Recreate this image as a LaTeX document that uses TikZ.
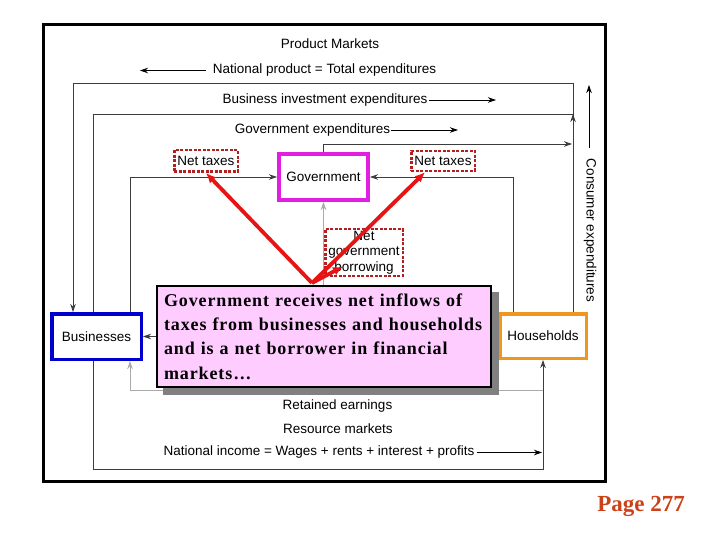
\documentclass[tikz,border=0pt]{standalone}
\usepackage{fontspec}
\setmainfont{Liberation Serif}
\newfontfamily\diagsans{Liberation Sans}
\newfontfamily\callfont[LetterSpace=5]{Liberation Serif}
\usetikzlibrary{arrows.meta,backgrounds}
\definecolor{govmag}{RGB}{225,30,225}
\definecolor{busblue}{RGB}{0,0,205}
\definecolor{hhorange}{RGB}{240,150,30}
\definecolor{taxred}{RGB}{180,30,30}
\definecolor{arrred}{RGB}{230,20,20}
\definecolor{pinkfill}{RGB}{255,204,255}
\definecolor{shadowgray}{RGB}{128,128,128}
\definecolor{linegray}{RGB}{60,60,60}
\definecolor{lightline}{RGB}{170,170,170}
\definecolor{pagered}{RGB}{205,65,25}
\begin{document}
\begin{tikzpicture}[x=1pt,y=-1pt,
  lbl/.style={font=\diagsans\fontsize{13.5}{15.5}\selectfont, inner sep=0pt},
  flow/.style={draw=linegray, line width=0.8pt},
  lightflow/.style={draw=lightline, line width=0.9pt},
  tip/.style={-{Stealth[length=8pt,width=5.5pt]}},
  sector/.style={draw, fill=white, line width=3.5pt, inner sep=0pt, lbl},
  taxbox/.style={draw=taxred, fill=white, line width=2.5pt, dash pattern=on 3pt off 1.5pt, inner sep=0pt, lbl},
  redarrow/.style={draw=arrred, line width=3.8pt, -{Latex[length=10pt,width=9pt]}},
  callout/.style={draw=black, line width=2pt, fill=pinkfill, minimum width=334pt, minimum height=101pt,
    text width=320pt, align=left, inner xsep=7pt, inner ysep=0pt,
    font=\callfont\bfseries\fontsize{18}{24.4}\selectfont}
]
\useasboundingbox (0,0) rectangle (720,540);
\draw[line width=3pt] (43.5,24.5) rectangle (605.5,481.5);

% labels
\node[lbl] (pm) at (330,44) {Product Markets};
\node[lbl] (np) at (324.5,70.5) {National product = Total expenditures};
\node[lbl] (bil) at (325,100) {Business investment expenditures};
\node[lbl] (gel) at (312.5,130) {Government expenditures};
\node[lbl] (ret) at (337.5,406.5) {Retained earnings};
\node[lbl] (rm) at (338,429) {Resource markets};
\node[lbl] (ni) at (319,452.5) {National income = Wages + rents + interest + profits};
\node[lbl, rotate=-90] (ce) at (590,230.5) {Consumer expenditures};

% sector boxes
\node[sector, draw=busblue, minimum width=89.5pt, minimum height=45.5pt] (bus) at (96.5,336.5) {Businesses};
\node[sector, draw=hhorange, minimum width=86.5pt, minimum height=44.5pt] (hh) at (543,336) {Households};
\node[sector, draw=govmag, line width=4pt, minimum width=89pt, minimum height=46pt] (gov) at (323.5,177) {Government};

% tax / borrowing boxes
\node[taxbox, minimum width=63.5pt, minimum height=21.5pt] (nt1) at (206,161) {Net taxes};
\node[taxbox, minimum width=63.5pt, minimum height=20pt] (nt2) at (443,161) {Net taxes};
\node[taxbox, minimum width=77.5pt, minimum height=46.5pt, align=center, font=\diagsans\fontsize{13.5}{15.7}\selectfont] (ngb) at (364,252.5) {Net\\government\\borrowing};

% callout with shadow
\fill[shadowgray] (163,292) rectangle (499,395);
\node[callout] (call) at (324,336.5) {Government receives net inflows of\\taxes from businesses and households\\and is a net borrower in financial\\markets\ldots};

% coordinates
\coordinate (tl) at (73,83);
\coordinate (tr) at (573,83);
\coordinate (bil0) at (93,114);
\coordinate (bi) at (573,114);
\coordinate (bi0) at (573,128);
\coordinate (bl) at (93,469);
\coordinate (br) at (543,469);
\coordinate (ge) at (572,144);
\coordinate (tx1) at (130,177);
\coordinate (tx2) at (513,177);
\coordinate (re) at (543,390);
\coordinate (npt) at (140,70.5);
\coordinate (bit) at (496,100);
\coordinate (get) at (458,130);
\coordinate (nit) at (542,452.5);
\coordinate (ce0) at (589,148);
\coordinate (ce1) at (589,85);
\coordinate (rs) at (312,283);

\begin{pgfonlayer}{background}
\fill[white] (0,0) rectangle (720,540);
\draw[flow,tip] (hh.north -| tr) -- (tr) -- (tl) -- (bus.north -| tl);
\draw[flow] (bus.north -| bil0) -- (bil0) -- (bi);
\draw[flow,tip] (bi0) -- (bi);
\draw[flow,tip] (bus.south -| bl) -- (bl) -- (br) -- (hh.south -| br);
\draw[flow,tip] (gov.north) |- (ge);
\draw[flow,tip] (bus.north -| tx1) |- (gov.west);
\draw[flow,tip] (hh.north -| tx2) |- (gov.east);
\draw[lightflow,tip] (call.north -| gov.south) -- (gov.south);
\draw[lightflow,tip] (re) -| (bus.south -| tx1);
\draw[flow,tip] (call.west |- bus.east) -- (bus.east);
\end{pgfonlayer}

% indicator arrows
\draw[flow,draw=black,tip] ([xshift=-7pt]np.west) -- (npt);
\draw[flow,draw=black,tip] ([xshift=1pt]bil.east) -- (bit);
\draw[flow,draw=black,tip] ([xshift=1pt]gel.east) -- (get);
\draw[flow,draw=black,tip] ([xshift=2pt]ni.east) -- (nit);
\draw[flow,draw=black,tip] (ce0) -- (ce1);

% red arrows
\draw[redarrow] (rs) -- (nt1.south);
\draw[redarrow] (rs) -- ([xshift=-18pt]nt2.south);
\draw[redarrow] (rs) -- ([xshift=-21pt,yshift=10.5pt]ngb.south);

\node[font=\bfseries\fontsize{23}{26}\selectfont, text=pagered, inner sep=0pt] (pg) at (641,506) {Page 277};
\end{tikzpicture}
\end{document}
